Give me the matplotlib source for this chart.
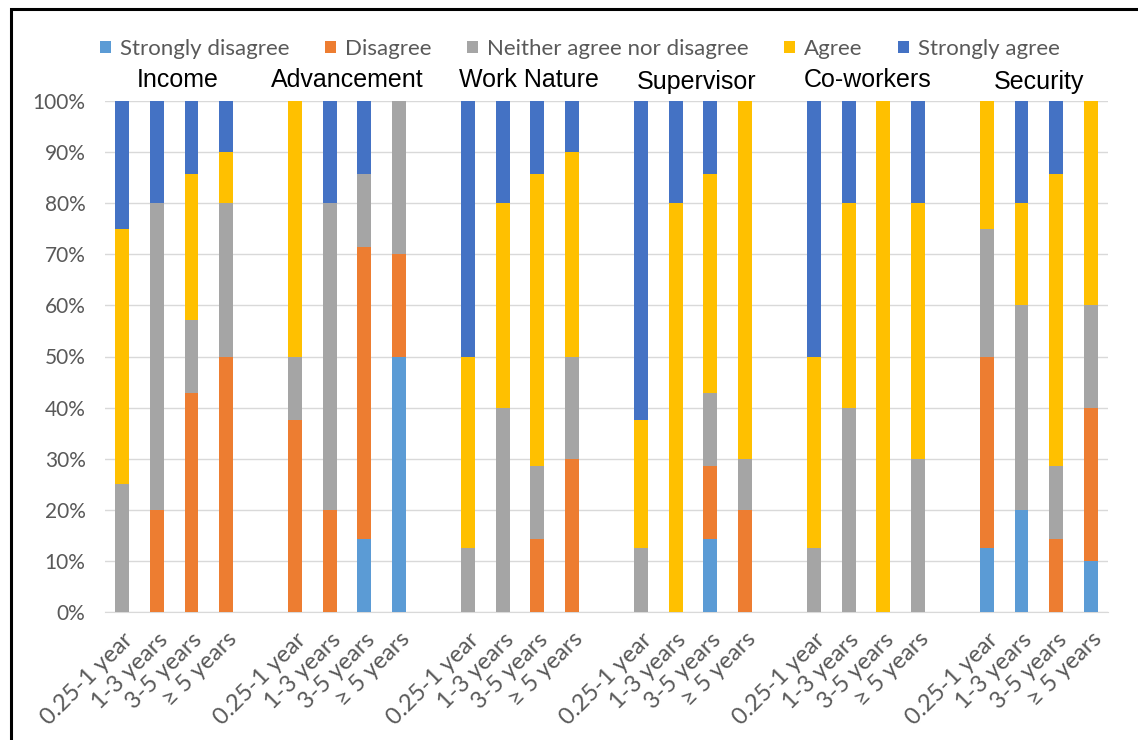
import matplotlib
matplotlib.use("Agg")
import matplotlib.pyplot as plt
from matplotlib.patches import Rectangle
import numpy as np

groups = ["Income", "Advancement", "Work Nature", "Supervisor", "Co-workers", "Security"]
tenures = ["0.25-1 year", "1-3 years", "3-5 years", "\u2265 5 years"]
levels = ["Strongly disagree", "Disagree", "Neither agree nor disagree", "Agree", "Strongly agree"]
colors = ["#5B9BD5", "#ED7D31", "#A5A5A5", "#FFC000", "#4472C4"]

# percentage shares per level, ordered group by group, tenure by tenure
strongly_disagree = [0, 0, 0, 0,
                     0, 0, 14.3, 50,
                     0, 0, 0, 0,
                     0, 0, 14.3, 0,
                     0, 0, 0, 0,
                     12.5, 20, 0, 10]
disagree = [0, 20, 42.9, 50,
            37.5, 20, 57.1, 20,
            0, 0, 14.3, 30,
            0, 0, 14.3, 20,
            0, 0, 0, 0,
            37.5, 0, 14.3, 30]
neither = [25, 60, 14.3, 30,
           12.5, 60, 14.3, 30,
           12.5, 40, 14.3, 20,
           12.5, 0, 14.3, 10,
           12.5, 40, 0, 30,
           25, 40, 14.3, 20]
agree = [50, 0, 28.6, 10,
         50, 0, 0, 0,
         37.5, 40, 57.1, 40,
         25, 80, 42.9, 70,
         37.5, 40, 100, 50,
         25, 20, 57.1, 40]
strongly_agree = [25, 20, 14.3, 10,
                  0, 20, 14.3, 0,
                  50, 20, 14.3, 10,
                  62.5, 20, 14.3, 0,
                  50, 20, 0, 20,
                  0, 20, 14.3, 0]

series = [strongly_disagree, disagree, neither, agree, strongly_agree]

# slot positions: four bars per group, one empty slot between groups
positions = []
labels = []
for g in range(len(groups)):
    for t in range(len(tenures)):
        positions.append(g * (len(tenures) + 1) + t)
        labels.append(tenures[t])
positions = np.array(positions, dtype=float)

fig = plt.figure(figsize=(11.38, 7.4), dpi=100)
ax = fig.add_axes([105 / 1138, 1 - 612 / 740, (1108 - 105) / 1138, (612 - 101) / 740])

bottom = np.zeros(len(positions))
for vals, col, name in zip(series, colors, levels):
    vals = np.array(vals, dtype=float)
    ax.bar(positions, vals, width=0.4, bottom=bottom, color=col, label=name, zorder=3)
    bottom += vals

ax.set_xlim(-0.5, positions[-1] + 0.5)
ax.set_ylim(0, 100)
ax.set_yticks(np.arange(0, 101, 10))
ax.set_yticklabels([f"{v}%" for v in range(0, 101, 10)], fontsize=15, color="#595959",
                   family=["Lato", "DejaVu Sans"])
ax.set_xticks(positions)
ax.set_xticklabels(labels, rotation=45, ha="right", rotation_mode="anchor",
                   fontsize=17, color="#595959", family=["Lato", "DejaVu Sans"])
ax.tick_params(axis="both", length=0)
ax.tick_params(axis="x", pad=12)
ax.tick_params(axis="y", pad=14)
ax.grid(axis="y", color="#D9D9D9", linewidth=1, zorder=0)
for s in ["top", "right", "left"]:
    ax.spines[s].set_visible(False)
ax.spines["bottom"].set_color("#D9D9D9")
ax.spines["bottom"].set_zorder(1)

# group titles above each set of bars
title_offsets = [0.1, 0.0, 0.25, 0.1, 0.05, 0.0]
title_base = [102.75, 102.75, 102.75, 102.35, 102.75, 102.35]
for g, name in enumerate(groups):
    cx = positions[g * 4: g * 4 + 4].mean() + title_offsets[g]
    ax.text(cx, title_base[g], name, ha="center", va="baseline", fontsize=18,
            family=["Liberation Sans", "DejaVu Sans"], color="black", clip_on=False)

leg = fig.legend(loc="center", bbox_to_anchor=(580 / 1138, 1 - 49 / 740), ncol=5,
                 frameon=False, handlelength=0.5, handleheight=0.5,
                 handletextpad=0.4, columnspacing=1.6,
                 prop={"family": ["Lato", "DejaVu Sans"], "size": 16})
for t in leg.get_texts():
    t.set_color("#595959")

# outer frame
fig.patches.append(Rectangle((11 / 1138, -0.05), 1.2, 1 - 9 / 740 + 0.05,
                             transform=fig.transFigure, fill=False,
                             edgecolor="black", linewidth=2.2))

fig.savefig("out.png", dpi=100, facecolor="white")
